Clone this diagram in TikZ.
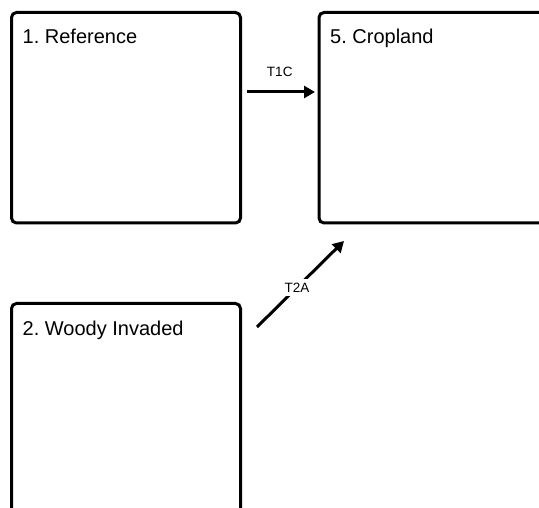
\documentclass[tikz,border=0pt]{standalone}
\usepackage{fontspec}
\setmainfont{Liberation Sans}
\usetikzlibrary{positioning,arrows.meta}
\frenchspacing

\tikzset{
  box/.style={draw, line width=3pt, rounded corners=5pt, minimum width=229pt,
    minimum height=210.5pt, outer sep=0pt, inner sep=0pt},
  title/.style={anchor=base west, inner sep=0pt, font=\fontsize{20}{24}\selectfont},
  trans/.style={line width=3pt, -{Triangle[length=11pt,width=12pt]}},
  lbl/.style={inner sep=1.5pt, font=\fontsize{13.5}{16}\selectfont}
}

\begin{document}
\begin{tikzpicture}[x=1pt, y=-1pt]

        \path[use as bounding box, clip] (0,0) rectangle (539,508);

        % States
        \node[box, anchor=north west] (ref) at (11.5,12.5) {};
        \node[box, right=78.5pt of ref] (crop) {};
        \node[box, below=80.5pt of ref] (woody) {};

        \node[title] (ref-t)   at ([xshift=11pt, yshift=-31pt]ref.north west)   {1. Reference};
        \node[title] (crop-t)  at ([xshift=11pt, yshift=-31pt]crop.north west)  {5. Cropland};
        \node[title] (woody-t) at ([xshift=11pt, yshift=-32pt]woody.north west) {2. Woody Invaded};

        % Transitions
        \draw[trans, shorten <=6pt, shorten >=4pt] ([yshift=25.75pt]ref.east)
            -- node[lbl, above=12pt] (t1c) {T1C} ([yshift=25.75pt]crop.west);
        \draw[trans] ([xshift=16.5pt, yshift=-23.5pt]woody.north east)
            -- node[lbl, fill=white, inner sep=4pt, pos=0.46] (t2a) {T2A} ([xshift=25pt, yshift=-18pt]crop.south west);

    \end{tikzpicture}
\end{document}
